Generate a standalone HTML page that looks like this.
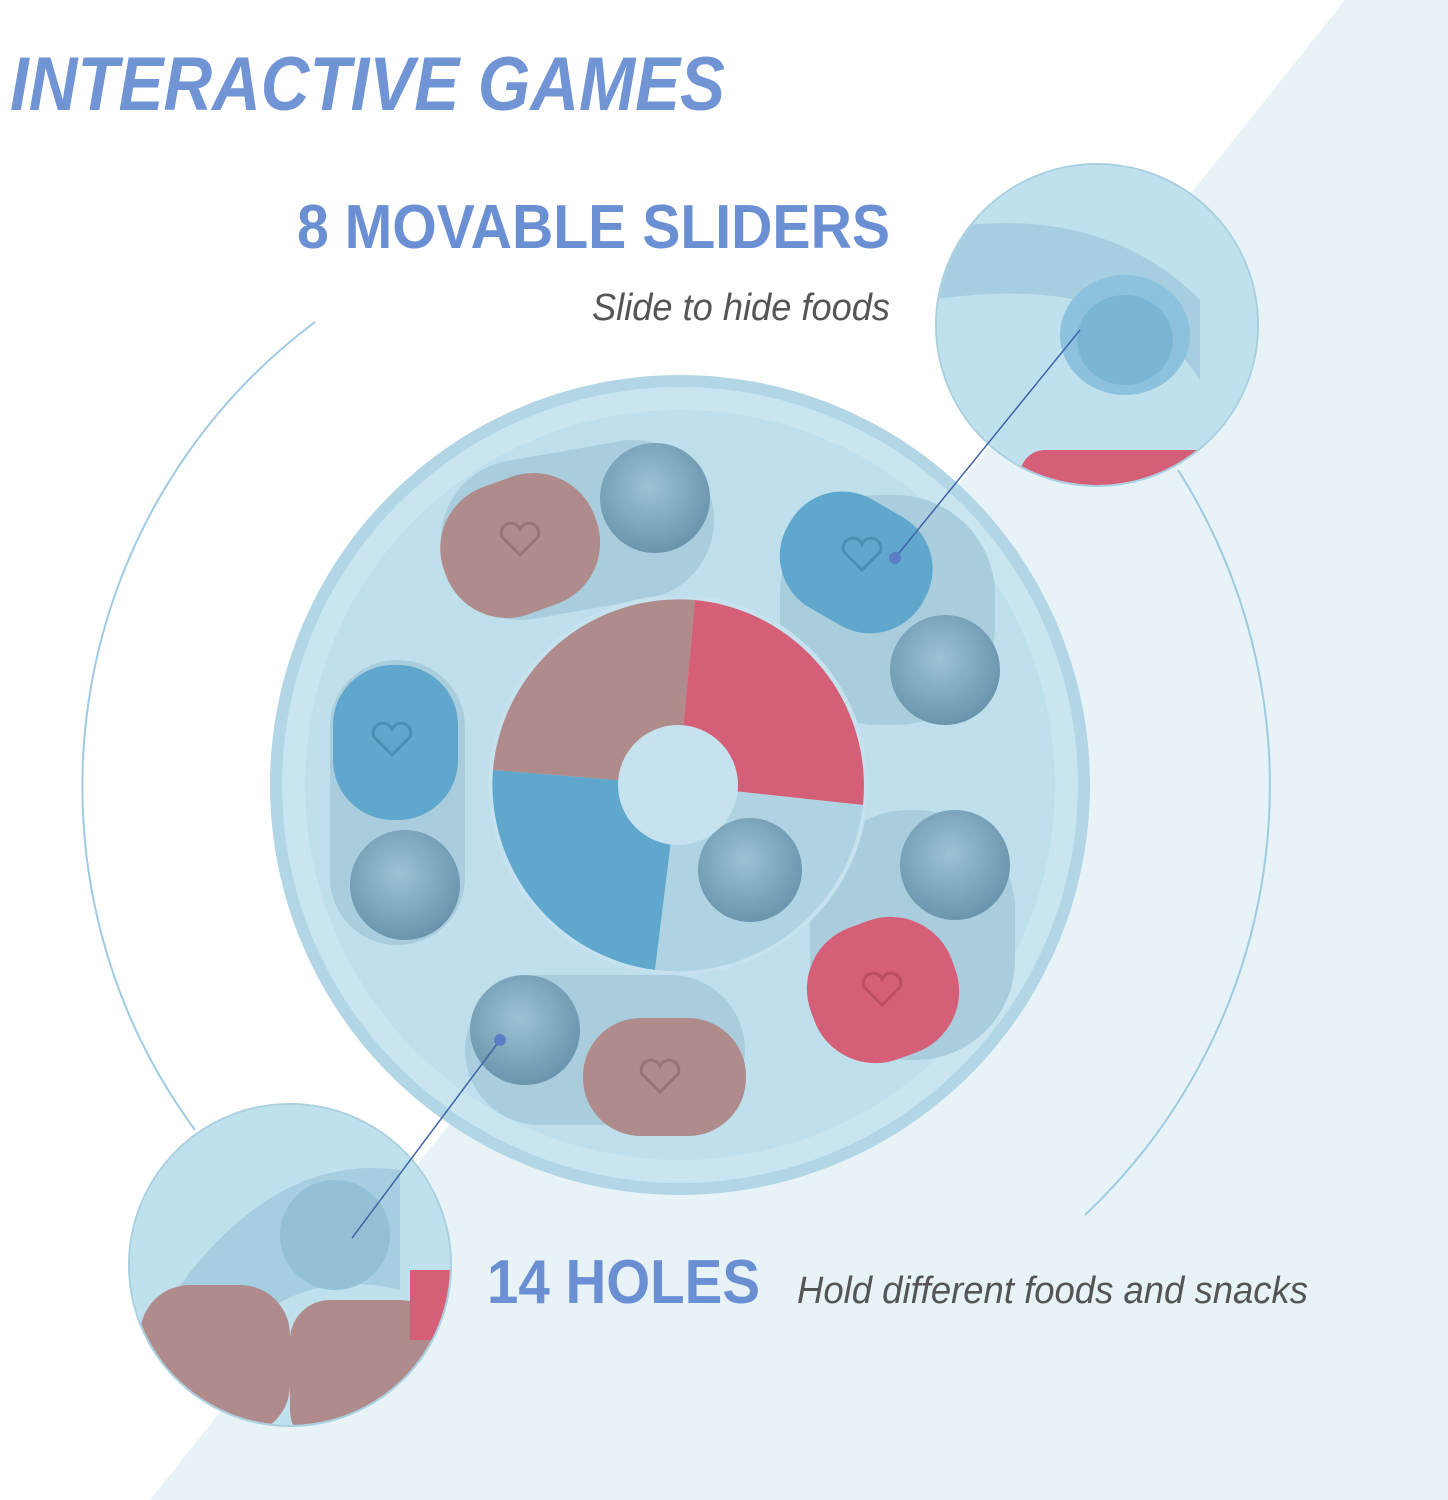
<!DOCTYPE html>
<html><head><meta charset="utf-8"><style>
html,body{margin:0;padding:0;background:#fff;}
svg{display:block}
</style></head><body>
<svg width="1448" height="1500" viewBox="0 0 1448 1500" xmlns="http://www.w3.org/2000/svg">
<defs>
<radialGradient id="hole" cx="0.45" cy="0.4" r="0.6"><stop offset="0" stop-color="#9cc2d4"/><stop offset="1" stop-color="#6a95ad"/></radialGradient>
<clipPath id="c1"><circle cx="1097" cy="325" r="160"/></clipPath>
<clipPath id="c2"><circle cx="290" cy="1265" r="160"/></clipPath>
</defs>
<rect width="1448" height="1500" fill="#fff"/>
<polygon points="1345,0 1448,0 1448,1500 150,1500" fill="#e8f3f8"/>
<path d="M315,322 A580,580 0 0 0 195,1130" fill="none" stroke="#9fcbe2" stroke-width="2"/>
<path d="M1178,470 A590,590 0 0 1 1085,1215" fill="none" stroke="#9fcbe2" stroke-width="2"/>
<circle cx="680" cy="785" r="410" fill="#b2d6e5"/>
<circle cx="680" cy="785" r="398" fill="#c8e5f0"/>
<circle cx="680" cy="785" r="375" fill="#bedfeb"/>
<g fill="#a9cddd">
<rect x="440" y="450" width="275" height="160" rx="80" transform="rotate(-10 577 530)"/>
<rect x="780" y="495" width="215" height="230" rx="100"/>
<rect x="330" y="660" width="135" height="285" rx="67"/>
<rect x="810" y="810" width="205" height="250" rx="100"/>
<rect x="465" y="975" width="280" height="150" rx="75"/>
</g>
<g fill="url(#hole)">
<circle cx="655" cy="498" r="55"/>
<circle cx="945" cy="670" r="55"/>
<circle cx="405" cy="885" r="55"/>
<circle cx="955" cy="865" r="55"/>
<circle cx="525" cy="1030" r="55"/>
</g>
<g>
<rect x="440" y="478" width="160" height="135" rx="65" fill="#b08b8b" transform="rotate(-20 520 545)"/>
<rect x="780" y="500" width="155" height="125" rx="60" fill="#5fa7cc" transform="rotate(30 857 560)"/>
<rect x="333" y="665" width="125" height="155" rx="60" fill="#5fa7cc"/>
<rect x="808" y="920" width="150" height="140" rx="65" fill="#d55f77" transform="rotate(-20 883 990)"/>
<rect x="583" y="1018" width="163" height="118" rx="58" fill="#b08b8b"/>
</g>
<g fill="none" stroke-width="3">
<path d="M520 555 l-18 -18 a9 9 0 0 1 18 -8 a9 9 0 0 1 18 8 z" stroke="#9a7474"/>
<path d="M862 570 l-18 -18 a9 9 0 0 1 18 -8 a9 9 0 0 1 18 8 z" stroke="#4a8fb5"/>
<path d="M392 755 l-18 -18 a9 9 0 0 1 18 -8 a9 9 0 0 1 18 8 z" stroke="#4a8fb5"/>
<path d="M882 1005 l-18 -18 a9 9 0 0 1 18 -8 a9 9 0 0 1 18 8 z" stroke="#bb4d64"/>
<path d="M660 1092 l-18 -18 a9 9 0 0 1 18 -8 a9 9 0 0 1 18 8 z" stroke="#9a7474"/>
</g>
<circle cx="678" cy="785" r="190" fill="#c5e2ee"/>
<path d="M678,785 L493,770 A187,187 0 0 1 695,600 Z" fill="#b08b8b"/>
<path d="M678,785 L695,600 A187,187 0 0 1 863,805 Z" fill="#d55f77"/>
<path d="M678,785 L493,770 A187,187 0 0 0 655,970 Z" fill="#5fa7cc"/>
<path d="M678,785 L863,805 A187,187 0 0 1 655,970 Z" fill="#afd3e2"/>
<circle cx="750" cy="870" r="52" fill="url(#hole)"/>
<circle cx="678" cy="785" r="60" fill="#c5e2ee"/>
<g clip-path="url(#c1)">
<rect x="930" y="160" width="340" height="330" fill="#bfe0ed"/>
<path d="M930,230 Q1100,200 1200,300 L1200,380 Q1130,270 930,300 Z" fill="#a6cde0"/>
<ellipse cx="1125" cy="335" rx="65" ry="60" fill="#8cc2dd"/>
<ellipse cx="1125" cy="340" rx="48" ry="45" fill="#7ab5d4"/>
<rect x="1020" y="450" width="200" height="60" rx="25" fill="#d55f77"/>
</g>
<circle cx="1097" cy="325" r="161" fill="none" stroke="#a9d0e1" stroke-width="2"/>
<g clip-path="url(#c2)">
<rect x="120" y="1100" width="340" height="340" fill="#bfe0ed"/>
<path d="M150,1330 Q260,1150 400,1170 L400,1290 Q280,1260 200,1380 Z" fill="#a6cde0"/>
<ellipse cx="335" cy="1235" rx="55" ry="55" fill="#94c0d5"/>
<rect x="140" y="1285" width="150" height="150" rx="50" fill="#b08b8b"/>
<rect x="290" y="1300" width="150" height="150" rx="40" fill="#b08b8b"/>
<rect x="410" y="1270" width="50" height="70" fill="#d55f77"/>
</g>
<circle cx="290" cy="1265" r="161" fill="none" stroke="#a9d0e1" stroke-width="2"/>
<line x1="895" y1="558" x2="1080" y2="330" stroke="#3f64a8" stroke-width="1.5"/>
<circle cx="895" cy="558" r="6" fill="#5b7fc6"/>
<line x1="500" y1="1040" x2="352" y2="1238" stroke="#3f64a8" stroke-width="1.5"/>
<circle cx="500" cy="1040" r="6" fill="#5b7fc6"/>
<text x="10" y="110" font-family="Liberation Sans, sans-serif" font-weight="bold" font-style="italic" font-size="76" fill="#7094d4" textLength="715" lengthAdjust="spacingAndGlyphs">INTERACTIVE GAMES</text>
<text x="297" y="248" font-family="Liberation Sans, sans-serif" font-weight="bold" font-size="62" fill="#6a8fd3" textLength="593" lengthAdjust="spacingAndGlyphs">8 MOVABLE SLIDERS</text>
<text x="592" y="320" font-family="Liberation Sans, sans-serif" font-style="italic" font-size="38" fill="#555" textLength="298" lengthAdjust="spacingAndGlyphs">Slide to hide foods</text>
<text x="487" y="1303" font-family="Liberation Sans, sans-serif" font-weight="bold" font-size="62" fill="#6a8fd3" textLength="273" lengthAdjust="spacingAndGlyphs">14 HOLES</text>
<text x="797" y="1303" font-family="Liberation Sans, sans-serif" font-style="italic" font-size="38" fill="#555" textLength="511" lengthAdjust="spacingAndGlyphs">Hold different foods and snacks</text>
</svg>
</body></html>
